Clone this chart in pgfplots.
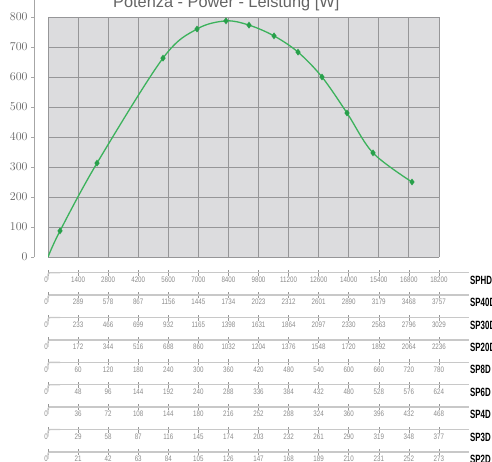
\documentclass[border=0pt]{standalone}
\usepackage{pgfplots}
\pgfplotsset{compat=1.18}
\usepackage{fontspec}
\setmainfont{Liberation Sans}
\newfontfamily\tickfont[FakeStretch=0.78]{Liberation Sans}
\newfontfamily\labfont[FakeStretch=0.66]{Liberation Sans}
\definecolor{bgc}{RGB}{220,220,222}
\definecolor{gridc}{RGB}{150,150,152}
\definecolor{linec}{RGB}{60,178,92}
\definecolor{markc}{RGB}{40,160,75}
\definecolor{rowc}{RGB}{200,200,200}
\definecolor{tickc}{RGB}{150,150,150}
\definecolor{rowtext}{RGB}{140,140,140}
\definecolor{ytext}{RGB}{100,100,100}

\pgfplotstableread{
x y
0 0
559 87
2281 313
5353 663
6936 760
8285 787
9356 773
10520 737
11637 683
12754 600
13918 480
15128 347
16943 250
}\powerdata

\pgfplotsset{
  rowaxis/.style={
    scale only axis, width=421bp, height=1bp,
    xmin=0, xmax=14, ymin=0, ymax=1,
    anchor=south west,
    hide y axis,
    axis x line*=bottom,
    x axis line style={draw=rowc, line width=1.4bp, -},
    xtick={1,...,13},
    tick align=center, major tick length=6bp,
    xtick style={draw=tickc, line width=0.5bp},
    xticklabel style={font=\tickfont\fontsize{8}{8}\selectfont, text=rowtext, inner sep=1bp},
    extra x ticks={0}, extra x tick labels={0},
    extra x tick style={tick style={draw=none}, xticklabel style={xshift=-2bp}},
    clip=false,
  },
}
\newcommand{\scalerow}[3]{%
\begin{axis}[rowaxis, at={(48bp,-#1bp)}, xticklabels={#2}]
\draw[rowc, line width=1.4bp, rounded corners=2bp] (axis cs:0.4,0) -- (axis cs:0,0) -- ++(0,-7bp);
\node[anchor=north west, inner sep=0pt, font=\labfont\bfseries\fontsize{12}{12}\selectfont] at (axis cs:14,0) [xshift=1bp, yshift=-3bp] {#3};
\end{axis}}

\begin{document}
\begin{tikzpicture}
\path[use as bounding box] (0,0) rectangle (492bp,-462bp);
\clip (0,0) rectangle (492bp,-462bp);

\node[anchor=base west, inner sep=0pt, font=\fontsize{16.4}{17}\selectfont, text=ytext] at (113bp,-7.5bp) {Potenza - Power - Leistung [W]};

\begin{axis}[at={(48bp,-257bp)}, anchor=south west, scale only axis,
  width=391bp, height=240bp,
  xmin=0, xmax=18200, ymin=0, ymax=800,
  xtick={0,1400,...,18200}, ytick={0,100,...,800},
  scaled ticks=false,
  xticklabels={}, yticklabels={},
  grid=major, grid style={draw=gridc, line width=0.9bp},
  axis background/.style={fill=bgc},
  axis line style={draw=none}, tick style={draw=none},
]
\addplot[linec, line width=1.3bp, smooth, tension=0.55, mark=diamond*, mark size=2.4bp,
  mark options={fill=markc, draw=markc}, mark indices={2,...,13}] table {\powerdata};
\end{axis}

\begin{axis}[at={(34bp,-257bp)}, anchor=south west, scale only axis,
  width=5bp, height=257bp, xmin=0, xmax=1, ymin=0, ymax=856.7,
  ytick={0,100,...,800}, hide x axis, axis y line*=left,
  y axis line style={draw=gray!70, line width=0.5bp, -},
  tick align=outside, major tick length=3bp,
  ytick style={draw=gray!70, line width=0.5bp},
  yticklabel style={font=\tickfont\fontsize{12}{12}\selectfont, text=ytext},
]
\end{axis}

\scalerow{272.7}{1400,2800,4200,5600,7000,8400,9800,11200,12600,14000,15400,16800,18200}{SPHD}
\scalerow{295.1}{289,578,867,1156,1445,1734,2023,2312,2601,2890,3179,3468,3757}{SP40D}
\scalerow{317.5}{233,466,699,932,1165,1398,1631,1864,2097,2330,2563,2796,3029}{SP30D}
\scalerow{339.9}{172,344,516,688,860,1032,1204,1376,1548,1720,1892,2064,2236}{SP20D}
\scalerow{362.3}{60,120,180,240,300,360,420,480,540,600,660,720,780}{SP8D}
\scalerow{384.7}{48,96,144,192,240,288,336,384,432,480,528,576,624}{SP6D}
\scalerow{407.1}{36,72,108,144,180,216,252,288,324,360,396,432,468}{SP4D}
\scalerow{429.5}{29,58,87,116,145,174,203,232,261,290,319,348,377}{SP3D}
\scalerow{451.9}{21,42,63,84,105,126,147,168,189,210,231,252,273}{SP2D}
\end{tikzpicture}
\end{document}
